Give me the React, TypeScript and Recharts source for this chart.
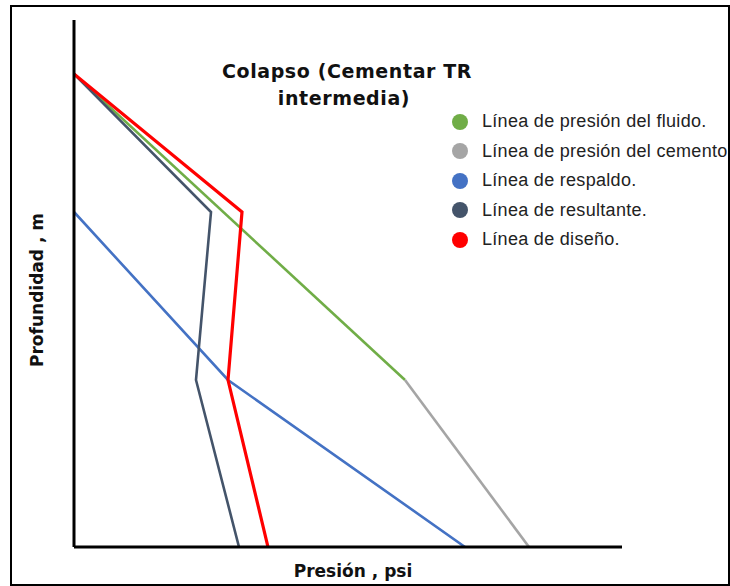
import React from "react";
import { LineChart, Line, XAxis, YAxis, Legend } from "recharts";

// Pressure (psi) vs depth (m)
const fluidLine = [
  { p: 0, d: 0 },
  { p: 3310, d: 3060 },
];
const cementLine = [
  { p: 3310, d: 3060 },
  { p: 4550, d: 4730 },
];
const backupLine = [
  { p: 0, d: 1380 },
  { p: 1540, d: 3060 },
  { p: 3910, d: 4730 },
];
const resultantLine = [
  { p: 0, d: 0 },
  { p: 1370, d: 1380 },
  { p: 1220, d: 3060 },
  { p: 1650, d: 4730 },
];
const designLine = [
  { p: 0, d: 0 },
  { p: 1680, d: 1380 },
  { p: 1540, d: 3060 },
  { p: 1940, d: 4730 },
];

const seriesNames = [
  "Línea de presión del fluido.",
  "Línea de presión del cemento",
  "Línea de respaldo.",
  "Línea de resultante.",
  "Línea de diseño.",
];
const seriesColors = ["#70AD47", "#A5A5A5", "#4472C4", "#44546A", "#FF0000"];

const titleLines = ["Colapso (Cementar TR", "intermedia)"];
const xLabel = "Presión , psi";
const yLabel = "Profundidad , m";

const pressureDomain = [0, 5480];
const depthDomain = [-540, 4730];

const renderLegend = () => (
  <div style={{ fontFamily: "'Liberation Sans', Arial, sans-serif" }}>
    {seriesNames.map((n, i) => (
      <div
        key={n}
        style={{ display: "flex", alignItems: "center", height: 29.5, whiteSpace: "nowrap" }}
      >
        <span
          style={{
            display: "inline-block",
            width: 16,
            height: 16,
            borderRadius: 8,
            background: seriesColors[i],
            marginLeft: 2,
            marginRight: 14,
          }}
        />
        <span style={{ fontSize: 18, letterSpacing: 0.3, color: "#222" }}>{n}</span>
      </div>
    ))}
  </div>
);

export default function App() {
  const seriesData = [fluidLine, cementLine, backupLine, resultantLine, designLine];
  return (
    <div
      style={{
        position: "absolute",
        left: 0,
        top: 0,
        width: 730,
        height: 586,
        background: "#fff",
        overflow: "hidden",
      }}
    >
      <div
        style={{
          position: "absolute",
          left: 10,
          top: 5,
          width: 716,
          height: 577,
          border: "2px solid #000",
        }}
      />
      <div style={{ position: "absolute", left: 0, top: 0 }}>
        <LineChart
          width={730}
          height={586}
          margin={{ top: 20, left: 70, right: 108, bottom: 35 }}
        >
          <XAxis
            type="number"
            dataKey="p"
            domain={pressureDomain}
            allowDataOverflow
            tick={false}
            tickLine={false}
            height={4}
            axisLine={{ stroke: "#000", strokeWidth: 3 }}
          />
          <YAxis
            type="number"
            dataKey="d"
            domain={depthDomain}
            reversed
            allowDataOverflow
            tick={false}
            tickLine={false}
            width={4}
            axisLine={{ stroke: "#000", strokeWidth: 3 }}
          />
          <Legend
            layout="vertical"
            align="center"
            verticalAlign="middle"
            content={renderLegend}
            wrapperStyle={{ position: "absolute", left: 450, top: 107, width: 280 }}
          />
          {seriesData.map((data, i) => (
            <Line
              key={seriesNames[i]}
              data={data}
              dataKey="d"
              name={seriesNames[i]}
              stroke={seriesColors[i]}
              strokeWidth={i === 4 ? 3.2 : 2.6}
              dot={false}
              activeDot={false}
              legendType="circle"
              isAnimationActive={false}
            />
          ))}
          <text
            x={347}
            y={78}
            textAnchor="middle"
            style={{ fontFamily: "'DejaVu Sans', sans-serif", fontWeight: 700, fontSize: 19, letterSpacing: 0.6 }}
            fill="#111"
          >
            {titleLines[0]}
          </text>
          <text
            x={344}
            y={105}
            textAnchor="middle"
            style={{ fontFamily: "'DejaVu Sans', sans-serif", fontWeight: 700, fontSize: 19, letterSpacing: 0.6 }}
            fill="#111"
          >
            {titleLines[1]}
          </text>
          <text
            x={353}
            y={577}
            textAnchor="middle"
            style={{ fontFamily: "'DejaVu Sans', sans-serif", fontWeight: 700, fontSize: 17 }}
            fill="#111"
          >
            {xLabel}
          </text>
          <text
            x={43}
            y={290}
            textAnchor="middle"
            transform="rotate(-90, 43, 290)"
            style={{ fontFamily: "'DejaVu Sans', sans-serif", fontWeight: 700, fontSize: 17 }}
            fill="#111"
          >
            {yLabel}
          </text>
        </LineChart>
      </div>
    </div>
  );
}
